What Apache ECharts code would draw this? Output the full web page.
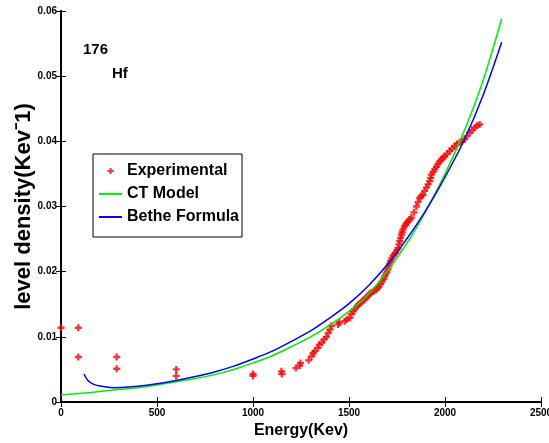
<!DOCTYPE html>
<html>
<head>
<meta charset="utf-8">
<script src="https://cdn.jsdelivr.net/npm/echarts@6/dist/echarts.min.js"></script>
<style>
  html, body { margin: 0; padding: 0; background: #fff; }
  #chart { width: 549px; height: 443px; }
</style>
</head>
<body>
<div id="chart"></div>
<script>
// experimental level density points [energy, density]
const experimental = [
    [0, 0.0114], [90, 0.0114], [90, 0.0069], [290, 0.0069], [290, 0.0051],
    [600, 0.0050], [600, 0.0040], [1000, 0.0043], [1000, 0.0040],
    [1148, 0.0047], [1150, 0.0043], [1223, 0.0052], [1243, 0.0056], [1247, 0.0060],
    [1290, 0.0064], [1304, 0.0070], [1313, 0.0075], [1322, 0.0078], [1337, 0.0083],
    [1345, 0.0088], [1358, 0.0091], [1370, 0.0096], [1382, 0.0100], [1392, 0.0106],
    [1400, 0.0111], [1408, 0.0117], [1443, 0.0119], [1450, 0.0122], [1478, 0.0124],
    [1490, 0.0127], [1504, 0.0129], [1512, 0.0135], [1522, 0.0139], [1530, 0.0143],
    [1540, 0.0146], [1547, 0.0149], [1556, 0.0151], [1564, 0.0153], [1574, 0.0156],
    [1582, 0.0158], [1590, 0.0160], [1599, 0.0163], [1608, 0.0166], [1616, 0.0168],
    [1628, 0.0170], [1639, 0.0172], [1648, 0.0175], [1656, 0.0177], [1665, 0.0181],
    [1673, 0.0185], [1680, 0.0189], [1686, 0.0193], [1692, 0.0197], [1698, 0.0200],
    [1703, 0.0204], [1708, 0.0208], [1712, 0.0212], [1716, 0.0216], [1722, 0.0220],
    [1729, 0.0224], [1736, 0.0227], [1743, 0.0229], [1750, 0.0233], [1755, 0.0236],
    [1760, 0.0242], [1764, 0.0247], [1769, 0.0252], [1773, 0.0257], [1777, 0.0261],
    [1781, 0.0265], [1788, 0.0269], [1795, 0.0272], [1801, 0.0275], [1807, 0.0277],
    [1816, 0.0280], [1825, 0.0283], [1838, 0.0291], [1851, 0.0300], [1860, 0.0307],
    [1868, 0.0313], [1876, 0.0316], [1885, 0.0318], [1894, 0.0324], [1903, 0.0329],
    [1912, 0.0334], [1920, 0.0339], [1925, 0.0344], [1929, 0.0349], [1938, 0.0353],
    [1946, 0.0357], [1955, 0.0361], [1963, 0.0365], [1972, 0.0369], [1981, 0.0372],
    [1990, 0.0375], [1998, 0.0377], [2011, 0.0381], [2024, 0.0385], [2037, 0.0389],
    [2050, 0.0393], [2063, 0.0396], [2076, 0.0398], [2089, 0.0400], [2102, 0.0403],
    [2115, 0.0408], [2128, 0.0413], [2141, 0.0417], [2154, 0.0421], [2167, 0.0424],
    [2180, 0.0426]
];

// CT model curve
const ctModel = [
    [0, 0.0011], [100, 0.0013], [200, 0.0016], [300, 0.0019], [400, 0.0022],
    [500, 0.0026], [600, 0.0031], [700, 0.0036], [800, 0.0042], [900, 0.0050],
    [1000, 0.0060], [1100, 0.0071], [1200, 0.0085], [1300, 0.0100], [1400, 0.0118],
    [1500, 0.0139], [1600, 0.0165], [1700, 0.0201], [1800, 0.0243], [1900, 0.0293],
    [2000, 0.0350], [2100, 0.0416], [2200, 0.0495], [2295, 0.0588]
];

// Bethe formula curve
const betheFormula = [
    [120, 0.0043], [140, 0.0033], [170, 0.0027], [210, 0.0024], [270, 0.0022],
    [350, 0.0023], [400, 0.0024], [500, 0.0028], [600, 0.0033], [700, 0.0039],
    [800, 0.0046], [900, 0.0055], [1000, 0.0066], [1100, 0.0078], [1200, 0.0093],
    [1300, 0.0109], [1400, 0.0129], [1500, 0.0151], [1600, 0.0178], [1700, 0.0211],
    [1800, 0.0250], [1900, 0.0294], [2000, 0.0345], [2100, 0.0402], [2200, 0.0472],
    [2295, 0.0552]
];

const plusSymbol = "path://M1,0H2V1H3V2H2V3H1V2H0V1H1Z";
const font = "Liberation Sans, Arial, sans-serif";

const chart = echarts.init(document.getElementById("chart"));

const axisLine = { show: true, lineStyle: { color: "#000", width: 2 } };
const axisTick = { show: true, inside: true, length: 5, lineStyle: { color: "#000", width: 1 } };
const tickLabel = { color: "#000", fontSize: 10, fontWeight: "bold", fontFamily: font };

chart.setOption({
    animation: false,
    grid: { left: 61, right: 8, top: 11, bottom: 41, outerBoundsMode: "none" },
    xAxis: [
        {
            type: "value", min: 0, max: 2500, interval: 500,
            name: "Energy(Kev)", nameLocation: "middle", nameGap: 20,
            nameTextStyle: { color: "#000", fontSize: 16, fontWeight: "bold", fontFamily: font },
            axisLine: axisLine, axisTick: axisTick,
            axisLabel: Object.assign({ margin: 6, formatter: (v) => String(v) }, tickLabel),
            splitLine: { show: false }
        },
        {
            type: "value", min: 0, max: 2500, interval: 500, position: "top",
            axisLine: axisLine, axisTick: axisTick,
            axisLabel: { show: false }, splitLine: { show: false }
        }
    ],
    yAxis: [
        {
            type: "value", min: 0, max: 0.06, interval: 0.01,
            name: "level density(Kev\u02C91)", nameLocation: "middle", nameGap: 26,
            nameMoveOverlap: false,
            nameTextStyle: { color: "#000", fontSize: 22, fontWeight: "bold", fontFamily: font },
            axisLine: axisLine, axisTick: axisTick,
            axisLabel: Object.assign({
                margin: 4,
                formatter: (v) => (v === 0 ? "0" : v.toFixed(2))
            }, tickLabel),
            splitLine: { show: false }
        },
        {
            type: "value", min: 0, max: 0.06, interval: 0.01, position: "right",
            axisLine: axisLine, axisTick: axisTick,
            axisLabel: { show: false }, splitLine: { show: false }
        }
    ],
    legend: {
        orient: "vertical", left: 93, top: 154,
        backgroundColor: "#fff", borderColor: "#000", borderWidth: 1,
        padding: [9, 3, 12, 5],
        itemWidth: 23, itemHeight: 6, itemGap: 7,
        textStyle: { color: "#000", fontSize: 16, fontWeight: "bold", fontFamily: font },
        data: [
            { name: "Experimental", icon: plusSymbol },
            { name: "CT Model", itemStyle: { opacity: 0 } },
            { name: "Bethe Formula", itemStyle: { opacity: 0 } }
        ]
    },
    graphic: [
        {
            type: "text", left: 83, top: 42,
            style: { text: "176", fill: "#000", font: "bold 15px " + font }
        },
        {
            type: "text", left: 112, top: 66,
            style: { text: "Hf", fill: "#000", font: "bold 15px " + font }
        }
    ],
    series: [
        {
            name: "Experimental", type: "scatter", data: experimental,
            symbol: plusSymbol, symbolSize: 7,
            itemStyle: { color: "#ff0000" }
        },
        {
            name: "CT Model", type: "line", data: ctModel, smooth: 0.3,
            symbol: "none", lineStyle: { color: "#00ee00", width: 1.5 },
            itemStyle: { color: "#00ee00" }
        },
        {
            name: "Bethe Formula", type: "line", data: betheFormula, smooth: 0.3,
            symbol: "none", lineStyle: { color: "#0000ff", width: 1.5 },
            itemStyle: { color: "#0000ff" }
        }
    ]
});
</script>
</body>
</html>
